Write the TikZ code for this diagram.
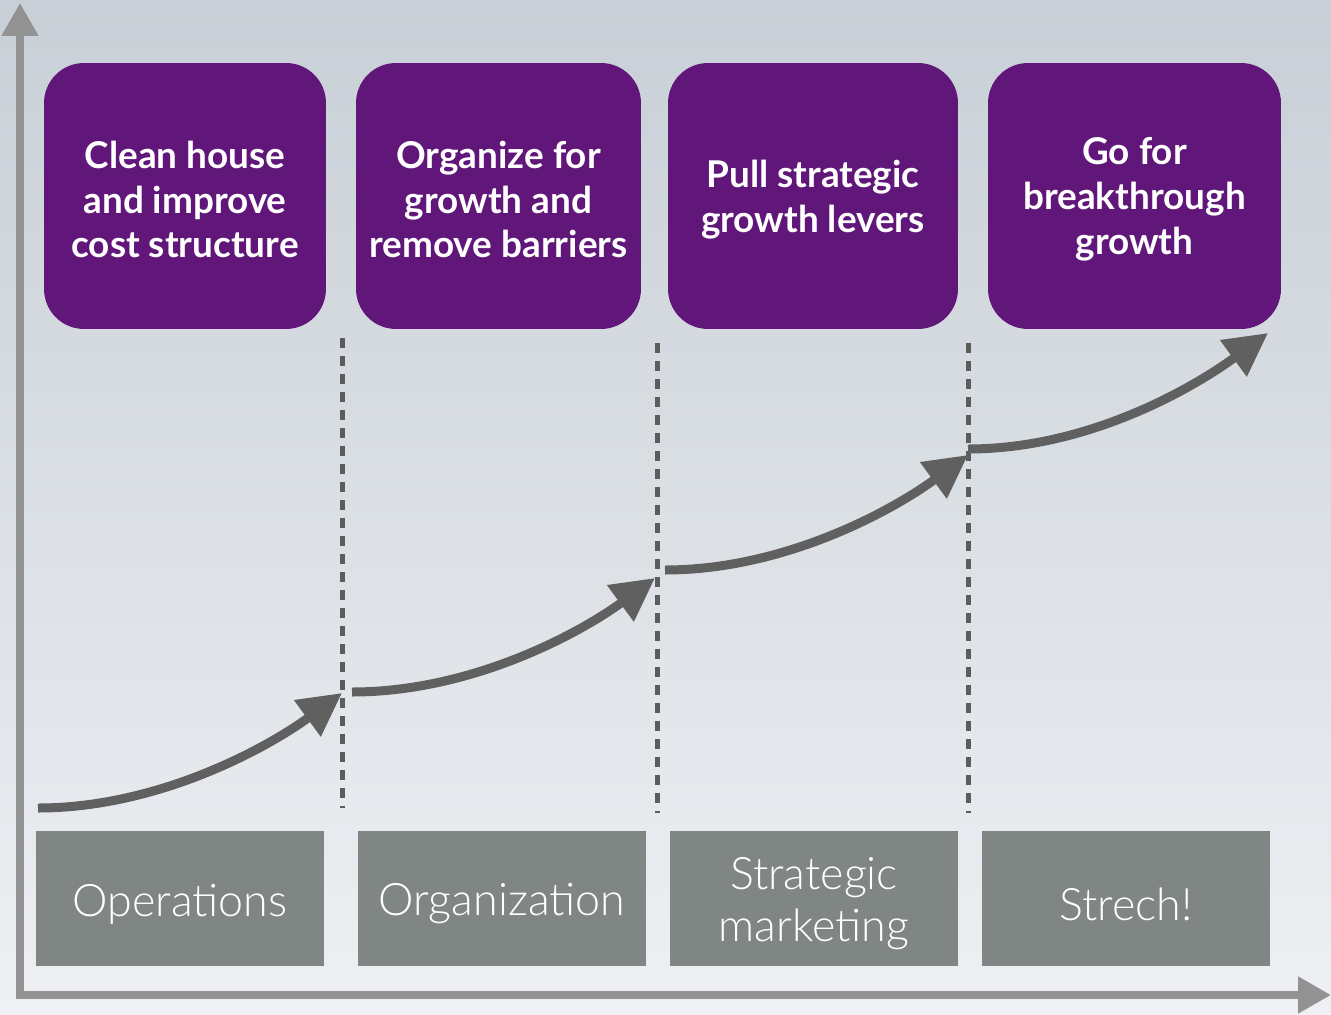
\documentclass[tikz,border=0pt]{standalone}
\usepackage{fontspec}
\setmainfont{Lato}
\newfontfamily\lightfont{Lato Light}
\usepackage{tikz}
\usetikzlibrary{arrows.meta}

\definecolor{plum}{RGB}{96,23,121}
\definecolor{slate}{RGB}{128,134,131}
\definecolor{axisgray}{RGB}{146,146,146}
\definecolor{arrowgray}{RGB}{96,96,96}
\definecolor{bgtop}{RGB}{200,207,214}
\definecolor{bgmid}{RGB}{184,192,200}
\definecolor{bgbot}{RGB}{238,240,243}

\tikzset{
  purplebox/.style={fill=plum, rounded corners=0.8cm, minimum height=5.32cm},
  purpletext/.style={text=white, align=center, yshift=-0.07cm,
    font=\fontsize{21}{25.5}\selectfont\bfseries},
  graybox/.style={fill=slate, minimum width=5.76cm, minimum height=2.7cm},
  graytext/.style={text=white, align=center, yshift=-0.11cm,
    font=\lightfont\fontsize{25.5}{29.5}\selectfont},
  dashline/.style={line width=0.1cm, draw=black!64, dash pattern=on 0.2cm off 0.16cm},
  growarrow/.style={line width=0.18cm, draw=arrowgray,
    -{Triangle[length=0.86cm,width=0.86cm]}},
  axis/.style={line width=0.16cm, draw=axisgray}
}

\begin{document}
\begin{tikzpicture}[x=0.02cm, y=-0.02cm]
\shade[top color=bgtop, middle color=bgmid, bottom color=bgbot]
  (0,0) rectangle (1331,1014);
\useasboundingbox (0,0) rectangle (1331,1014);

% axes
\coordinate (origin) at (20,995);
\coordinate (ytip) at (20,3);
\coordinate (xtip) at (1331,995);
\draw[axis, {Triangle[length=0.66cm,width=0.7cm]}-{Triangle[length=0.66cm,width=0.7cm]}]
  (ytip) -- (origin) -- (xtip);

% stages
\node[purplebox, minimum width=5.64cm,
  label={[purpletext]center:Clean house\\and improve\\cost structure}] (clean) at (185,196) {};
\node[purplebox, minimum width=5.70cm,
  label={[purpletext]center:Organize for\\growth and\\remove barriers}] (organize) at (498.5,196) {};
\node[purplebox, minimum width=5.80cm,
  label={[purpletext]center:Pull strategic\\growth levers}] (pull) at (813,196) {};
\node[purplebox, minimum width=5.86cm,
  label={[purpletext]center:Go for\\breakthrough\\growth}] (gofor) at (1134.5,196) {};

\node[graybox, label={[graytext]center:Operations}] (ops) at (180,898.5) {};
\node[graybox, label={[graytext]center:Organization}] (org) at (502,898.5) {};
\node[graybox, label={[graytext]center:Strategic\\marketing}] (mkt) at (814,898.5) {};
\node[graybox, label={[graytext]center:Strech!}] (strech) at (1126,898.5) {};

% separators
\coordinate (d1top) at (342,338);
\coordinate (d1bot) at (342,808);
\coordinate (d2top) at (657,343);
\coordinate (d2bot) at (657,813);
\coordinate (d3top) at (968,343);
\coordinate (d3bot) at (968,813);
\draw[dashline] (d1top) -- (d1bot);
\draw[dashline] (d2top) -- (d2bot);
\draw[dashline] (d3top) -- (d3bot);

% growth steps
\coordinate (a1s) at (38,808);
\coordinate (a1e) at (342,693);
\coordinate (a2s) at (352,692);
\coordinate (a2e) at (655,578);
\coordinate (a3s) at (665,570);
\coordinate (a3e) at (968,455);
\coordinate (a4s) at (968,449);
\coordinate (a4e) at (1268,333);
\draw[growarrow] (a1s) .. controls ++(120,0) and ++(-75,55) .. (a1e);
\draw[growarrow] (a2s) .. controls ++(120,0) and ++(-75,55) .. (a2e);
\draw[growarrow] (a3s) .. controls ++(120,0) and ++(-75,55) .. (a3e);
\draw[growarrow] (a4s) .. controls ++(120,0) and ++(-75,55) .. (a4e);
\end{tikzpicture}
\end{document}
